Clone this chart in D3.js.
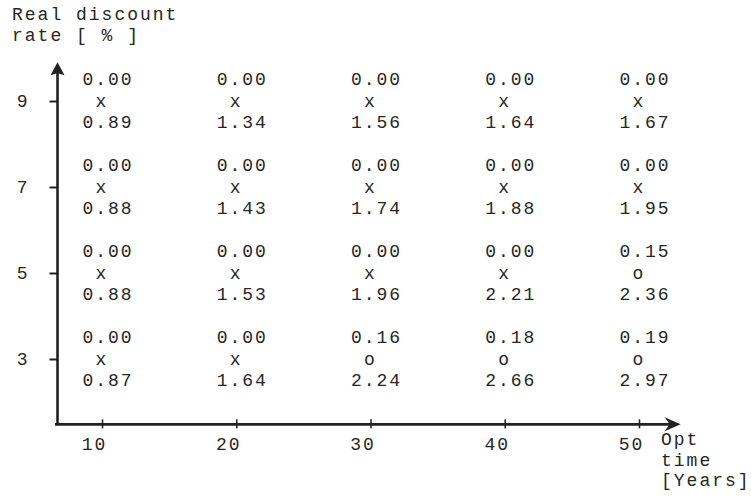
<!DOCTYPE html>
<html>
<head>
<meta charset="utf-8">
<script src="https://cdn.jsdelivr.net/npm/d3@7"></script>
<style>
  html, body { margin: 0; padding: 0; background: #fff; }
  text { font-family: "Liberation Mono", "Courier New", monospace; fill: #262626; letter-spacing: 2px; }
</style>
</head>
<body>
<svg id="chart"></svg>
<script>
// Optimal rotation time table, typewriter style
const years = [10, 20, 30, 40, 50];
const rates = [9, 7, 5, 3];

// upper number in each cell (one row per rate, top to bottom)
const upperValues = [
    [0.00, 0.00, 0.00, 0.00, 0.00],
    [0.00, 0.00, 0.00, 0.00, 0.00],
    [0.00, 0.00, 0.00, 0.00, 0.15],
    [0.00, 0.00, 0.16, 0.18, 0.19]
];

// lower number in each cell
const lowerValues = [
    [0.89, 1.34, 1.56, 1.64, 1.67],
    [0.88, 1.43, 1.74, 1.88, 1.95],
    [0.88, 1.53, 1.96, 2.21, 2.36],
    [0.87, 1.64, 2.24, 2.66, 2.97]
];

const yTitle = ["Real discount", "rate [ % ]"];
const xTitle = ["Opt", "time", "[Years]"];

const W = 751, H = 497;
const fontSize = 18;
const ink = "#222";

const svg = d3.select("#chart")
    .attr("width", W)
    .attr("height", H);

const x = d3.scaleLinear().domain([10, 50]).range([102, 639]);
const y = d3.scaleLinear().domain([3, 9]).range([359, 101]);

// axis extents in data units
const xMin = 6.5, xMax = 53.1;
const yMin = 1.48, yMax = 9.9;
const axisX = x(xMin) + 2.5;

// Axis lines
svg.append("line")
    .attr("x1", x(xMin)).attr("x2", x(xMax) - 8)
    .attr("y1", y(yMin)).attr("y2", y(yMin))
    .attr("stroke", ink).attr("stroke-width", 2.6);

svg.append("line")
    .attr("x1", axisX).attr("x2", axisX)
    .attr("y1", y(yMin) + 1).attr("y2", y(yMax) + 8)
    .attr("stroke", ink).attr("stroke-width", 2.6);

// Arrow heads
svg.append("path")
    .attr("transform", `translate(${x(xMax)},${y(yMin)})`)
    .attr("d", "M0,0 L-16,-7 L-11,0 L-16,7 Z")
    .attr("fill", ink);

svg.append("path")
    .attr("transform", `translate(${axisX},${y(yMax)})`)
    .attr("d", "M0,0 L-7,13 L0,11 L7,13 Z")
    .attr("fill", ink);

// Y axis ticks
const yAxis = svg.append("g")
    .attr("transform", `translate(${axisX},0)`)
    .call(d3.axisLeft(y).tickValues(rates).tickSize(8).tickPadding(20).tickFormat(d3.format("d")));
yAxis.select(".domain").remove();
yAxis.selectAll(".tick line").attr("stroke", ink).attr("stroke-width", 2);
yAxis.selectAll(".tick text")
    .style("font-family", "Liberation Mono, monospace")
    .style("font-size", fontSize + "px")
    .attr("dy", "0.33em")
    .attr("fill", "#262626");

// X axis ticks
const xAxis = svg.append("g")
    .attr("transform", `translate(0,${y(yMin)})`)
    .call(d3.axisBottom(x).tickValues(years).tickSize(5).tickPadding(8).tickFormat(d3.format("d")));
xAxis.select(".domain").remove();
xAxis.selectAll(".tick line").attr("y1", -5).attr("y2", 4).attr("stroke", ink).attr("stroke-width", 1.6);
xAxis.selectAll(".tick text")
    .style("font-family", "Liberation Mono, monospace")
    .style("font-size", fontSize + "px")
    .attr("dx", -8)
    .attr("fill", "#262626");

// Titles
svg.append("text")
    .attr("y", 20)
    .style("font-size", fontSize + "px")
    .selectAll("tspan")
    .data(yTitle)
    .join("tspan")
    .attr("x", 12)
    .attr("dy", (d, i) => i === 0 ? 0 : 21)
    .text(d => d);

svg.append("text")
    .attr("y", 445)
    .style("font-size", fontSize + "px")
    .selectAll("tspan")
    .data(xTitle)
    .join("tspan")
    .attr("x", 661)
    .attr("dy", (d, i) => i === 0 ? 0 : 20.5)
    .text(d => d);

// Cells
const cells = [];
rates.forEach((r, i) => {
    years.forEach((yr, j) => {
        cells.push({rate: r, year: yr, upper: upperValues[i][j], lower: lowerValues[i][j]});
    });
});

const cell = svg.append("g")
    .selectAll("g")
    .data(cells)
    .join("g")
    .attr("transform", d => `translate(${x(d.year)},${y(d.rate)})`);

cell.append("text")
    .attr("text-anchor", "middle")
    .attr("x", 6)
    .attr("y", -16)
    .style("font-size", fontSize + "px")
    .text(d => d.upper.toFixed(2));

cell.append("text")
    .attr("text-anchor", "middle")
    .attr("x", 0)
    .attr("y", 5.5)
    .style("font-size", fontSize + "px")
    .text(d => d.upper > 0 ? "o" : "x");

cell.append("text")
    .attr("text-anchor", "middle")
    .attr("x", 6)
    .attr("y", 26.5)
    .style("font-size", fontSize + "px")
    .text(d => d.lower.toFixed(2));
</script>
</body>
</html>
